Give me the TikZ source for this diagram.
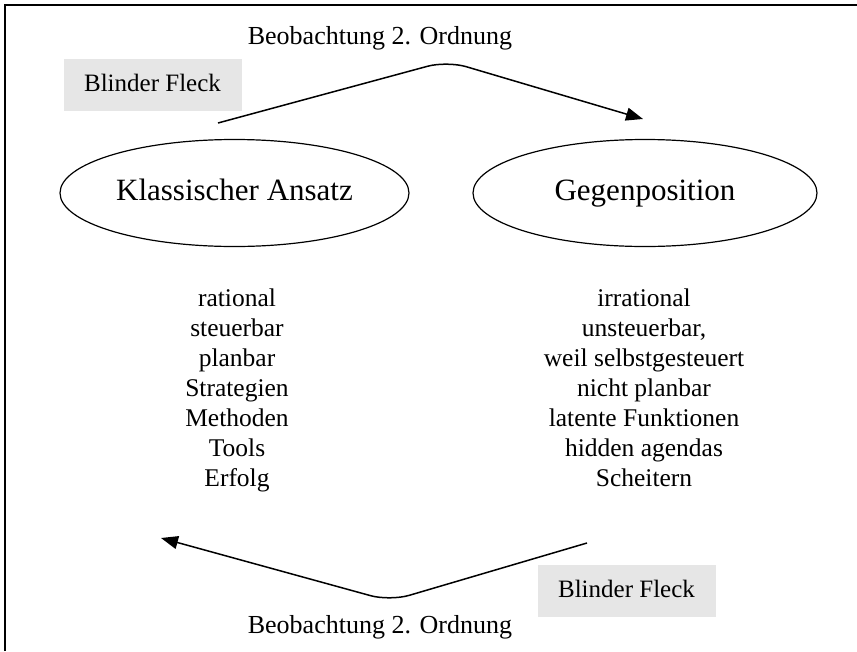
\documentclass[tikz,border=0pt]{standalone}
\usepackage{fontspec}
\setmainfont{Liberation Serif}
\usetikzlibrary{shapes.geometric,arrows.meta}
\definecolor{boxgray}{RGB}{230,230,230}
\begin{document}
\begin{tikzpicture}[x=1pt,y=-1pt,
  ell/.style={draw,ellipse,line width=1.2pt,inner sep=0pt,minimum height=107pt,text height=22pt,text depth=7pt,font=\fontsize{31}{36}\selectfont},
  blind/.style={fill=boxgray,minimum width=178pt,minimum height=52pt,inner sep=0pt,text height=17pt,text depth=5pt,font=\fontsize{25}{30}\selectfont},
  obs/.style={inner sep=0pt,anchor=base,font=\fontsize{26}{30}\selectfont},
  lst/.style={align=center,inner sep=0pt,font=\fontsize{25.5}{30}\selectfont},
  arr/.style={line width=1.5pt,rounded corners=20pt,-{Triangle[length=17pt,width=13pt]}}]
\useasboundingbox (0,0) rectangle (857,651);
% frame
\coordinate (f1) at (5,651);
\coordinate (f2) at (5,5);
\coordinate (f3) at (857,5);
\draw[line width=2pt] (f1) -- (f2) -- (f3);
% top
\node[obs] (t1) at (380,44) {Beobachtung 2. Ordnung};
\node[blind] (b1) at (152.5,85) {Blinder Fleck};
\coordinate (a1s) at (218,123);
\coordinate (a1p) at (447,61);
\coordinate (a1e) at (643,119);
\draw[arr] (a1s) -- (a1p) -- (a1e);
% ellipses
\node[ell,minimum width=349pt] (k) at (234.5,193) {\makebox[0pt]{Klassischer Ansatz}};
\node[ell,minimum width=344pt] (g) at (645,193) {\makebox[0pt]{Gegenposition}};
% lists
\node[lst] (l1) at (237,390) {rational\\steuerbar\\planbar\\Strategien\\Methoden\\Tools\\Erfolg};
\node[lst] (l2) at (644,388) {irrational\\unsteuerbar,\\weil selbstgesteuert\\nicht planbar\\latente Funktionen\\hidden agendas\\Scheitern};
% bottom
\coordinate (a2s) at (587,543);
\coordinate (a2p) at (390,601);
\coordinate (a2e) at (161,538);
\draw[arr] (a2s) -- (a2p) -- (a2e);
\node[blind] (b2) at (626.5,591) {Blinder Fleck};
\node[obs] (t2) at (380,633) {Beobachtung 2. Ordnung};
\end{tikzpicture}
\end{document}
